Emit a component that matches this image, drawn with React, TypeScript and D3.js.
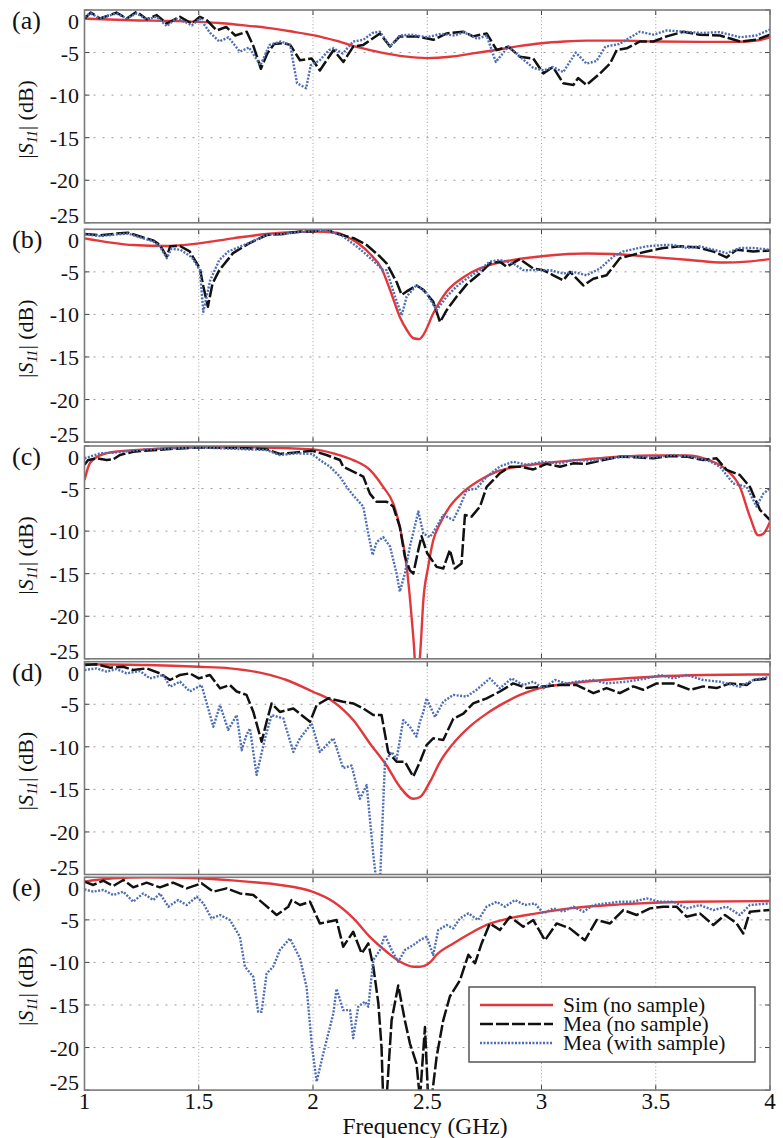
import React from 'react';
import * as d3 from 'd3';

type Pt = [number, number];

const freqTicks = [1, 1.5, 2, 2.5, 3, 3.5, 4];
const freqTickLabels = ['1', '1.5', '2', '2.5', '3', '3.5', '4'];
const dbTicks = [0, -5, -10, -15, -20, -25];
const dbTickLabels = ['0', '-5', '-10', '-15', '-20', '-25'];
const panelLabels = ['(a)', '(b)', '(c)', '(d)', '(e)'];
const legendLabels = ['Sim (no sample)', 'Mea (no sample)', 'Mea (with sample)'];

// ---------- panel (a) ----------
const simA: Pt[] = [[1.0,-1.0],[1.2,-1.2],[1.4,-1.3],[1.5,-1.4],[1.6,-1.55],[1.7,-1.8],[1.8,-2.1],[1.9,-2.5],[2.0,-2.95],[2.1,-3.6],[2.2,-4.4],[2.3,-5.0],[2.4,-5.45],[2.5,-5.65],[2.6,-5.5],[2.7,-5.1],[2.8,-4.7],[2.9,-4.25],[3.0,-3.9],[3.1,-3.7],[3.2,-3.6],[3.35,-3.6],[3.5,-3.7],[3.7,-3.75],[3.85,-3.75],[3.95,-3.55],[4.0,-3.2]];
const noA: Pt[] = [[1.0,-1.0],[1.027,-0.3],[1.068,-1.0],[1.14,-0.3],[1.185,-1.0],[1.228,-0.2],[1.272,-1.1],[1.316,-0.6],[1.36,-1.6],[1.418,-0.8],[1.469,-1.6],[1.505,-0.8],[1.535,-1.2],[1.578,-2.4],[1.62,-2.0],[1.66,-3.0],[1.71,-2.55],[1.74,-4.3],[1.772,-6.9],[1.80,-5.1],[1.83,-4.0],[1.87,-3.9],[1.90,-4.1],[1.943,-5.9],[1.994,-5.7],[2.03,-7.1],[2.06,-5.9],[2.09,-4.7],[2.133,-6.1],[2.176,-4.3],[2.22,-4.1],[2.293,-2.75],[2.337,-4.3],[2.38,-3.1],[2.454,-3.1],[2.527,-3.5],[2.585,-2.75],[2.658,-2.55],[2.70,-3.1],[2.76,-2.75],[2.804,-4.7],[2.855,-4.3],[2.906,-5.5],[2.964,-5.7],[3.008,-7.45],[3.05,-6.7],[3.095,-8.6],[3.14,-8.8],[3.16,-8.0],[3.197,-8.8],[3.256,-7.45],[3.30,-6.3],[3.329,-4.7],[3.373,-4.5],[3.431,-3.7],[3.49,-3.7],[3.548,-3.1],[3.621,-2.55],[3.693,-2.9],[3.781,-3.0],[3.869,-3.7],[3.94,-3.5],[4.0,-2.9]];
const withA: Pt[] = [[1.0,-0.8],[1.027,-0.4],[1.068,-1.0],[1.14,-0.4],[1.185,-1.0],[1.228,-0.4],[1.272,-1.1],[1.316,-0.8],[1.36,-1.9],[1.40,-1.0],[1.44,-1.4],[1.47,-1.8],[1.505,-1.0],[1.55,-2.7],[1.59,-3.7],[1.63,-3.2],[1.68,-4.9],[1.72,-4.4],[1.77,-6.5],[1.81,-4.1],[1.86,-3.7],[1.90,-4.1],[1.93,-8.6],[1.97,-9.2],[1.99,-6.5],[2.03,-5.9],[2.07,-4.7],[2.09,-4.5],[2.13,-5.1],[2.176,-3.7],[2.22,-3.5],[2.26,-2.7],[2.293,-2.55],[2.337,-4.3],[2.38,-3.0],[2.43,-2.9],[2.5,-3.2],[2.56,-2.8],[2.62,-3.0],[2.66,-2.6],[2.72,-3.4],[2.76,-3.0],[2.80,-6.1],[2.855,-4.3],[2.906,-5.5],[2.964,-6.8],[3.01,-7.1],[3.05,-6.7],[3.095,-7.3],[3.15,-5.0],[3.197,-6.3],[3.24,-6.0],[3.28,-4.3],[3.34,-4.0],[3.43,-2.55],[3.49,-2.9],[3.548,-2.4],[3.62,-2.55],[3.7,-2.7],[3.78,-2.6],[3.87,-3.2],[3.94,-3.0],[4.0,-2.3]];

// ---------- panel (b) ----------
const simB: Pt[] = [[1.0,-1.06],[1.214,-1.85],[1.36,-1.96],[1.5,-1.65],[1.65,-1.06],[1.797,-0.55],[2.0,-0.27],[2.1,-0.4],[2.15,-0.9],[2.2,-1.7],[2.25,-2.9],[2.3,-4.6],[2.337,-7.1],[2.38,-10.3],[2.41,-11.8],[2.44,-12.8],[2.465,-12.9],[2.483,-12.4],[2.526,-9.9],[2.585,-7.3],[2.66,-5.6],[2.73,-4.6],[2.8,-4.0],[2.876,-3.6],[3.022,-3.1],[3.2,-2.85],[3.314,-2.9],[3.504,-3.3],[3.65,-3.6],[3.796,-3.9],[3.9,-3.8],[4.0,-3.5]];
const noB: Pt[] = [[1.0,-0.55],[1.07,-0.7],[1.14,-0.5],[1.19,-0.4],[1.25,-0.9],[1.30,-1.3],[1.33,-1.85],[1.36,-3.2],[1.375,-2.0],[1.418,-1.96],[1.46,-2.6],[1.505,-4.6],[1.52,-6.7],[1.54,-9.1],[1.56,-6.4],[1.59,-4.8],[1.65,-2.8],[1.72,-1.65],[1.797,-0.67],[1.87,-0.55],[1.945,-0.27],[2.0,-0.27],[2.06,0.05],[2.09,-0.4],[2.13,-0.7],[2.18,-1.06],[2.235,-1.85],[2.293,-3.2],[2.322,-4.0],[2.366,-6.2],[2.388,-7.7],[2.41,-7.3],[2.453,-6.6],[2.483,-7.1],[2.526,-8.5],[2.556,-10.9],[2.585,-9.5],[2.629,-7.9],[2.672,-6.5],[2.73,-5.2],[2.774,-4.0],[2.818,-3.8],[2.847,-4.4],[2.905,-3.5],[2.964,-4.6],[3.008,-4.8],[3.052,-5.4],[3.095,-6.0],[3.125,-5.0],[3.183,-6.6],[3.227,-5.8],[3.285,-5.4],[3.343,-3.4],[3.4,-3.0],[3.46,-2.6],[3.533,-2.2],[3.606,-2.0],[3.679,-2.1],[3.752,-2.6],[3.81,-3.3],[3.854,-2.4],[3.927,-2.6],[4.0,-2.5]];
const withB: Pt[] = [[1.0,-0.6],[1.07,-0.8],[1.14,-0.6],[1.19,-0.5],[1.25,-1.0],[1.30,-1.4],[1.33,-2.0],[1.36,-3.4],[1.38,-2.3],[1.42,-2.4],[1.47,-3.3],[1.505,-4.8],[1.52,-9.7],[1.55,-6.0],[1.59,-3.6],[1.63,-2.6],[1.72,-1.6],[1.797,-0.67],[1.87,-0.55],[1.945,-0.3],[2.0,-0.2],[2.06,-0.1],[2.13,-0.8],[2.2,-2.2],[2.26,-3.6],[2.307,-4.8],[2.322,-4.8],[2.359,-7.9],[2.388,-10.1],[2.41,-7.9],[2.453,-6.55],[2.497,-7.5],[2.541,-9.5],[2.585,-7.9],[2.629,-6.7],[2.672,-5.8],[2.73,-4.8],[2.774,-3.8],[2.818,-3.6],[2.876,-4.0],[2.92,-4.8],[2.978,-4.8],[3.037,-4.8],[3.095,-5.2],[3.139,-5.0],[3.197,-5.4],[3.256,-4.6],[3.314,-3.2],[3.358,-2.6],[3.46,-2.0],[3.533,-1.85],[3.577,-1.85],[3.635,-2.2],[3.693,-2.0],[3.752,-2.4],[3.81,-2.8],[3.869,-2.2],[3.927,-2.2],[4.0,-2.4]];

// ---------- panel (c) ----------
const simC: Pt[] = [[1.0,-4.0],[1.024,-2.0],[1.068,-1.1],[1.126,-0.7],[1.27,-0.4],[1.5,-0.15],[1.71,-0.15],[2.0,-0.4],[2.089,-0.86],[2.176,-1.65],[2.249,-2.8],[2.307,-4.8],[2.351,-6.75],[2.38,-9.5],[2.41,-14.2],[2.44,-22.8],[2.455,-28],[2.47,-24],[2.483,-18.1],[2.504,-14.2],[2.526,-11.1],[2.556,-9.1],[2.599,-7.1],[2.658,-5.4],[2.731,-4.0],[2.804,-3.0],[2.906,-2.4],[3.052,-1.9],[3.197,-1.55],[3.343,-1.25],[3.489,-1.1],[3.635,-1.1],[3.737,-1.7],[3.81,-2.8],[3.868,-4.8],[3.912,-8.3],[3.949,-10.5],[3.971,-10.3],[4.0,-8.9]];
const noC: Pt[] = [[1.0,-2.2],[1.016,-1.65],[1.053,-1.45],[1.097,-1.65],[1.126,-1.57],[1.155,-1.06],[1.213,-0.67],[1.345,-0.4],[1.5,-0.16],[1.709,-0.27],[1.797,-0.39],[1.855,-0.94],[1.914,-0.78],[1.997,-0.55],[2.059,-1.06],[2.118,-1.65],[2.132,-2.43],[2.176,-3.0],[2.22,-3.6],[2.249,-5.6],[2.278,-6.55],[2.322,-6.55],[2.351,-7.1],[2.38,-9.5],[2.402,-13.0],[2.424,-14.6],[2.439,-15.0],[2.461,-12.2],[2.475,-10.6],[2.5,-12.6],[2.541,-14.2],[2.57,-14.4],[2.599,-12.2],[2.621,-14.4],[2.65,-13.8],[2.665,-8.1],[2.694,-8.3],[2.731,-7.1],[2.76,-4.8],[2.818,-3.2],[2.862,-2.43],[2.906,-2.43],[2.964,-2.75],[3.022,-2.1],[3.081,-2.43],[3.139,-2.04],[3.197,-2.1],[3.27,-1.65],[3.343,-1.25],[3.416,-1.33],[3.489,-1.45],[3.562,-1.18],[3.635,-1.25],[3.708,-1.65],[3.766,-1.45],[3.81,-2.8],[3.868,-3.4],[3.912,-4.8],[3.956,-7.5],[4.0,-8.7]];
const withC: Pt[] = [[1.0,-1.45],[1.024,-1.25],[1.068,-0.86],[1.126,-0.78],[1.272,-0.4],[1.5,-0.16],[1.709,-0.39],[1.797,-0.47],[1.855,-1.06],[1.928,-0.86],[1.997,-0.94],[2.03,-1.65],[2.074,-2.43],[2.118,-3.6],[2.147,-4.8],[2.176,-5.8],[2.22,-7.1],[2.242,-10.3],[2.261,-12.8],[2.278,-11.3],[2.307,-10.7],[2.337,-11.8],[2.366,-15.0],[2.38,-17.1],[2.402,-15.0],[2.424,-11.8],[2.461,-7.7],[2.483,-10.3],[2.512,-10.7],[2.541,-9.5],[2.57,-8.1],[2.614,-8.7],[2.643,-7.1],[2.672,-5.2],[2.716,-5.0],[2.76,-3.6],[2.818,-2.4],[2.876,-1.85],[2.935,-2.2],[3.008,-1.85],[3.081,-2.04],[3.139,-1.65],[3.227,-1.73],[3.285,-1.45],[3.372,-1.25],[3.489,-1.33],[3.577,-1.06],[3.664,-1.25],[3.737,-1.8],[3.781,-2.43],[3.839,-4.4],[3.898,-4.8],[3.941,-7.1],[3.971,-5.6],[4.0,-5.0]];

// ---------- panel (d) ----------
const simD: Pt[] = [[1.0,-0.3],[1.272,-0.39],[1.5,-0.6],[1.636,-0.78],[1.782,-1.37],[1.884,-2.15],[1.997,-3.5],[2.089,-4.7],[2.176,-6.86],[2.249,-9.6],[2.322,-12.2],[2.38,-14.7],[2.439,-16.1],[2.468,-15.9],[2.512,-14.1],[2.556,-11.76],[2.614,-9.6],[2.687,-7.6],[2.76,-6.1],[2.833,-4.9],[2.906,-3.9],[2.993,-3.1],[3.124,-2.55],[3.27,-2.15],[3.489,-1.76],[3.708,-1.57],[4.0,-1.5]];
const noD: Pt[] = [[1.0,-0.39],[1.053,-0.31],[1.111,-0.7],[1.17,-0.6],[1.213,-0.98],[1.272,-0.78],[1.33,-1.37],[1.374,-2.15],[1.418,-1.56],[1.461,-1.37],[1.5,-1.96],[1.549,-1.56],[1.593,-3.13],[1.636,-2.74],[1.666,-3.5],[1.709,-3.9],[1.739,-5.9],[1.775,-9.4],[1.797,-7.05],[1.819,-4.9],[1.855,-5.9],[1.914,-5.5],[1.987,-7.05],[2.016,-5.1],[2.067,-4.3],[2.132,-4.7],[2.176,-4.9],[2.22,-5.5],[2.264,-6.27],[2.3,-6.27],[2.329,-10.6],[2.366,-11.76],[2.402,-11.76],[2.439,-13.5],[2.468,-11.76],[2.497,-9.8],[2.526,-9.0],[2.57,-9.2],[2.614,-6.7],[2.658,-6.1],[2.701,-4.9],[2.76,-4.3],[2.818,-3.5],[2.876,-2.55],[2.935,-3.1],[3.008,-2.9],[3.081,-2.74],[3.154,-2.74],[3.227,-3.7],[3.285,-3.1],[3.343,-3.7],[3.402,-2.9],[3.445,-3.3],[3.504,-2.55],[3.577,-2.55],[3.65,-3.3],[3.708,-2.9],[3.766,-3.1],[3.825,-2.55],[3.898,-2.74],[3.927,-2.15],[4.0,-1.96]];
const withD: Pt[] = [[1.0,-0.98],[1.053,-0.78],[1.097,-1.17],[1.14,-0.86],[1.184,-1.37],[1.243,-1.1],[1.286,-1.96],[1.345,-1.56],[1.374,-2.94],[1.418,-2.35],[1.461,-3.5],[1.512,-2.74],[1.564,-7.64],[1.593,-5.1],[1.629,-8.0],[1.666,-6.27],[1.688,-10.4],[1.709,-8.6],[1.724,-7.84],[1.753,-13.3],[1.79,-9.0],[1.819,-6.27],[1.87,-6.66],[1.914,-10.6],[1.943,-9.0],[1.994,-7.25],[2.03,-10.6],[2.089,-9.0],[2.132,-12.5],[2.169,-12.2],[2.205,-16.1],[2.235,-14.5],[2.264,-22.7],[2.278,-26],[2.293,-26],[2.315,-11.76],[2.344,-10.6],[2.366,-11.4],[2.395,-6.86],[2.424,-7.64],[2.453,-8.8],[2.468,-7.05],[2.483,-5.9],[2.497,-4.3],[2.534,-6.5],[2.57,-4.7],[2.614,-3.9],[2.672,-4.1],[2.716,-3.3],[2.774,-1.96],[2.818,-3.13],[2.869,-1.96],[2.92,-2.74],[2.964,-2.35],[3.008,-3.13],[3.059,-2.15],[3.11,-2.55],[3.154,-2.35],[3.227,-2.15],[3.285,-2.55],[3.372,-2.35],[3.46,-1.96],[3.518,-1.56],[3.577,-1.96],[3.635,-1.56],[3.708,-2.15],[3.781,-2.35],[3.868,-2.94],[3.927,-2.15],[4.0,-1.76]];

// ---------- panel (e) ----------
const simE: Pt[] = [[1.0,-0.51],[1.126,-0.12],[1.272,0],[1.5,-0.12],[1.709,-0.51],[1.855,-0.9],[1.997,-1.69],[2.089,-2.87],[2.176,-4.8],[2.249,-7.0],[2.322,-8.75],[2.38,-9.9],[2.439,-10.5],[2.468,-10.5],[2.512,-10.0],[2.541,-9.1],[2.614,-7.77],[2.687,-6.6],[2.76,-5.6],[2.862,-4.8],[2.979,-4.24],[3.124,-3.65],[3.343,-3.18],[3.635,-2.87],[4.0,-2.79]];
const noE: Pt[] = [[1.0,-0.51],[1.038,-0.9],[1.082,-0.4],[1.126,-1.02],[1.17,-0.32],[1.213,-1.18],[1.272,-0.63],[1.33,-1.18],[1.388,-0.63],[1.447,-1.3],[1.512,-0.71],[1.564,-1.69],[1.622,-1.3],[1.68,-1.89],[1.739,-2.08],[1.782,-3.06],[1.841,-4.43],[1.892,-3.45],[1.906,-2.67],[1.943,-3.26],[1.987,-2.87],[2.03,-5.42],[2.067,-5.22],[2.103,-5.02],[2.132,-8.16],[2.176,-6.4],[2.213,-8.95],[2.242,-7.77],[2.264,-10.5],[2.286,-14.8],[2.3,-20],[2.307,-26],[2.322,-26],[2.344,-16.8],[2.373,-12.7],[2.402,-16.8],[2.424,-19.5],[2.453,-21.9],[2.468,-26],[2.49,-17.6],[2.504,-26],[2.519,-26],[2.541,-21.1],[2.57,-16.8],[2.599,-14.0],[2.643,-12.1],[2.68,-9.1],[2.709,-10.1],[2.738,-7.77],[2.774,-5.42],[2.818,-6.2],[2.862,-4.63],[2.92,-5.8],[2.964,-5.02],[3.015,-7.4],[3.066,-5.42],[3.124,-6.0],[3.19,-7.4],[3.241,-5.02],[3.3,-5.42],[3.358,-3.85],[3.416,-4.43],[3.475,-3.65],[3.533,-3.45],[3.591,-3.45],[3.635,-4.63],[3.693,-4.24],[3.752,-5.6],[3.803,-4.43],[3.854,-5.42],[3.883,-6.6],[3.912,-4.04],[4.0,-3.85]];
const withE: Pt[] = [[1.0,-1.42],[1.038,-1.69],[1.082,-1.49],[1.126,-2.08],[1.17,-1.69],[1.213,-2.87],[1.257,-1.89],[1.301,-2.67],[1.33,-1.89],[1.367,-3.45],[1.41,-2.67],[1.447,-3.26],[1.491,-2.28],[1.52,-3.06],[1.556,-4.83],[1.593,-4.43],[1.636,-5.02],[1.68,-6.98],[1.702,-10.5],[1.739,-11.7],[1.76,-15.8],[1.775,-15.8],[1.797,-11.3],[1.826,-10.5],[1.855,-8.55],[1.899,-7.18],[1.943,-9.53],[1.972,-12.9],[1.994,-19.5],[2.016,-24.0],[2.045,-20.7],[2.089,-16.0],[2.103,-13.1],[2.132,-15.6],[2.162,-15.6],[2.176,-18.9],[2.198,-15.2],[2.227,-14.6],[2.242,-15.2],[2.264,-9.73],[2.293,-8.55],[2.315,-6.79],[2.344,-8.55],[2.373,-9.93],[2.402,-8.55],[2.439,-7.96],[2.468,-7.38],[2.497,-6.98],[2.526,-9.14],[2.548,-6.2],[2.585,-5.61],[2.614,-6.0],[2.643,-4.83],[2.68,-4.24],[2.723,-5.02],[2.76,-3.45],[2.804,-2.87],[2.84,-3.45],[2.884,-2.67],[2.927,-3.26],[2.971,-3.06],[3.008,-4.24],[3.052,-3.65],[3.095,-4.04],[3.139,-3.45],[3.183,-4.04],[3.227,-3.26],[3.285,-3.06],[3.343,-2.87],[3.402,-2.87],[3.46,-2.48],[3.518,-2.87],[3.577,-2.87],[3.635,-3.65],[3.693,-3.26],[3.752,-3.85],[3.81,-3.45],[3.868,-4.43],[3.912,-3.26],[4.0,-3.06]];

const simSeries = [simA, simB, simC, simD, simE];
const noSeries = [noA, noB, noC, noD, noE];
const withSeries = [withA, withB, withC, withD, withE];

const W = 783;
const H = 1138;
const SERIF = "'Liberation Serif', 'Times New Roman', Tinos, 'DejaVu Serif', serif";
const RED = '#e2383c';
const BLACK = '#111111';
const BLUE = '#4d6db4';
const FRAME = '#7a7a7a';
const txt = { fontFamily: SERIF };

export default function App() {
  const x = d3.scaleLinear().domain([1, 4]).range([84.5, 770]);
  const panelTops = [10, 229.3, 446, 661.7, 877.3];
  const ph = 212.8;
  const [x0, x1] = x.range();

  const panels = panelLabels.map((lab, i) => {
    const top = panelTops[i];
    const y = d3.scaleLinear().domain([-25, 0]).range([top + ph, top]);
    const lineLin = d3.line<Pt>().x((d) => x(d[0])).y((d) => y(d[1]));
    const lineSmooth = d3
      .line<Pt>()
      .x((d) => x(d[0]))
      .y((d) => y(d[1]))
      .curve(d3.curveMonotoneX);
    const clipId = `clip-${i}`;
    return (
      <g key={lab}>
        <defs>
          <clipPath id={clipId}>
            <rect x={x0} y={top} width={x1 - x0} height={ph} />
          </clipPath>
        </defs>
        <rect x={x0} y={top} width={x1 - x0} height={ph} fill="#fff" />
        {dbTicks
          .filter((v) => v !== 0 && v !== -25)
          .map((v) => (
            <line key={`h${v}`} x1={x0} x2={x1} y1={y(v)} y2={y(v)} stroke="#9a9a9a" strokeWidth={1} strokeDasharray="2,7" />
          ))}
        {freqTicks
          .filter((f) => f !== 1 && f !== 4)
          .map((f) => (
            <line key={`v${f}`} x1={x(f)} x2={x(f)} y1={top} y2={top + ph} stroke="#a0a0a0" strokeWidth={1} strokeDasharray="1,2.5" />
          ))}
        <g clipPath={`url(#${clipId})`}>
          <path d={lineSmooth(simSeries[i]) || ''} fill="none" stroke={RED} strokeWidth={2.4} />
          <path d={lineLin(noSeries[i]) || ''} fill="none" stroke={BLACK} strokeWidth={2.5} strokeDasharray="13,3" strokeLinejoin="round" />
          <path d={lineLin(withSeries[i]) || ''} fill="none" stroke={BLUE} strokeWidth={2.4} strokeDasharray="2,1.5" strokeLinejoin="round" />
        </g>
        {dbTicks.map((v) => (
          <g key={`t${v}`}>
            <line x1={x0} x2={x0 + 5} y1={y(v)} y2={y(v)} stroke="#444" strokeWidth={1} />
            <line x1={x1 - 5} x2={x1} y1={y(v)} y2={y(v)} stroke="#444" strokeWidth={1} />
          </g>
        ))}
        {freqTicks.map((f) => (
          <g key={`tx${f}`}>
            <line x1={x(f)} x2={x(f)} y1={top} y2={top + 5} stroke="#444" strokeWidth={1} />
            <line x1={x(f)} x2={x(f)} y1={top + ph - 5} y2={top + ph} stroke="#444" strokeWidth={1} />
          </g>
        ))}
        <rect x={x0} y={top} width={x1 - x0} height={ph} fill="none" stroke={FRAME} strokeWidth={1.6} />
        {dbTicks.map((v, k) => {
          let by = y(v) + 8;
          if (v === 0) by = top + 19;
          if (v === -25) by = top + ph;
          return (
            <text key={`yl${v}`} x={79} y={by} textAnchor="end" style={txt} fontSize={22} fill="#111">
              {dbTickLabels[k]}
            </text>
          );
        })}
        <text x={12} y={top + 19} style={txt} fontSize={26} fill="#111">
          {lab}
        </text>
        <text
          transform={`translate(33,${top + ph / 2 + 3}) rotate(-90)`}
          textAnchor="middle"
          style={txt}
          fontSize={22}
          fill="#111"
        >
          |<tspan fontStyle="italic">S</tspan>
          <tspan fontStyle="italic" fontSize={14} dy={4}>11</tspan>
          <tspan dy={-4}>| (dB)</tspan>
        </text>
      </g>
    );
  });

  const lastBottom = panelTops[4] + ph;
  const legendRows = [1005, 1024, 1043];
  const legendStyles = [
    { stroke: RED, dash: undefined as string | undefined },
    { stroke: BLACK, dash: '13,3' },
    { stroke: BLUE, dash: '2,1.5' },
  ];

  return (
    <svg width={W} height={H} viewBox={`0 0 ${W} ${H}`} style={{ position: 'absolute', left: 0, top: 0, background: '#fff' }}>
      <rect x={0} y={0} width={W} height={H} fill="#fff" />
      {panels}
      {freqTicks.map((f, k) => (
        <text key={`xl${f}`} x={x(f)} y={lastBottom + 18.5} textAnchor="middle" style={txt} fontSize={23} fill="#111">
          {freqTickLabels[k]}
        </text>
      ))}
      <text x={425} y={1134} textAnchor="middle" style={txt} fontSize={23.5} fill="#111">
        Frequency (GHz)
      </text>
      <g>
        <rect x={469} y={987} width={286} height={75} fill="#fff" stroke="#555" strokeWidth={1.5} />
        {legendLabels.map((lab, k) => (
          <g key={lab}>
            <line x1={480} x2={553} y1={legendRows[k]} y2={legendRows[k]} stroke={legendStyles[k].stroke} strokeWidth={2.4} strokeDasharray={legendStyles[k].dash} />
            <text x={563} y={legendRows[k] + 7} style={txt} fontSize={21.5} fill="#111">
              {lab}
            </text>
          </g>
        ))}
      </g>
    </svg>
  );
}
